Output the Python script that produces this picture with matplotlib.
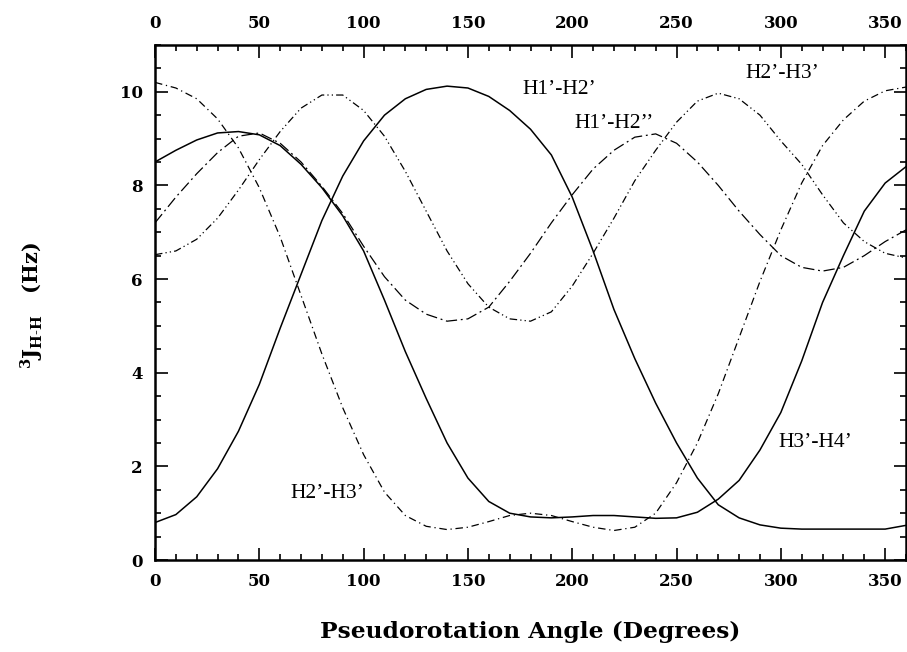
import matplotlib
matplotlib.use("Agg")
import matplotlib.pyplot as plt
from matplotlib.ticker import MultipleLocator

plt.rcParams["mathtext.fontset"] = "dejavuserif"

# pseudorotation angle grid (degrees)
angle = [0, 10, 20, 30, 40, 50, 60, 70, 80, 90, 100, 110, 120, 130, 140, 150, 160, 170, 180,
         190, 200, 210, 220, 230, 240, 250, 260, 270, 280, 290, 300, 310, 320, 330, 340, 350, 360]

# coupling constants (Hz)
j_h1h2 = [0.80, 0.97, 1.35, 1.95, 2.75, 3.75, 4.95, 6.1, 7.25, 8.2, 8.95, 9.5, 9.85, 10.05, 10.12,
          10.08, 9.9, 9.6, 9.2, 8.65, 7.75, 6.6, 5.35, 4.3, 3.35, 2.5, 1.75, 1.18, 0.9, 0.75, 0.68,
          0.66, 0.66, 0.66, 0.66, 0.66, 0.74]
j_h3h4 = [8.5, 8.75, 8.97, 9.12, 9.15, 9.08, 8.85, 8.45, 7.95, 7.35, 6.6, 5.55, 4.45, 3.45, 2.5,
          1.75, 1.25, 1.0, 0.92, 0.9, 0.92, 0.95, 0.95, 0.92, 0.89, 0.9, 1.02, 1.3, 1.7, 2.35, 3.15,
          4.25, 5.5, 6.5, 7.45, 8.05, 8.4]
j_h1h2b = [7.2, 7.75, 8.25, 8.7, 9.05, 9.12, 8.9, 8.5, 7.98, 7.4, 6.7, 6.05, 5.55, 5.25, 5.1,
           5.15, 5.4, 5.95, 6.55, 7.2, 7.8, 8.35, 8.75, 9.03, 9.1, 8.9, 8.5, 8.0, 7.45, 6.95, 6.5,
           6.25, 6.17, 6.25, 6.5, 6.8, 7.05]
j_h2h3 = [10.2, 10.08, 9.85, 9.42, 8.8, 7.95, 6.9, 5.65, 4.4, 3.25, 2.25, 1.45, 0.95, 0.72, 0.65,
          0.7, 0.82, 0.95, 1.0, 0.95, 0.82, 0.7, 0.63, 0.7, 1.0, 1.65, 2.5, 3.55, 4.75, 5.95, 7.05,
          8.05, 8.85, 9.4, 9.8, 10.02, 10.1]
j_h2h3b = [6.52, 6.6, 6.85, 7.3, 7.9, 8.55, 9.15, 9.65, 9.93, 9.93, 9.6, 9.05, 8.3, 7.45, 6.6,
           5.9, 5.4, 5.15, 5.1, 5.3, 5.85, 6.55, 7.3, 8.1, 8.75, 9.35, 9.8, 9.97, 9.85, 9.5, 8.95,
           8.45, 7.8, 7.2, 6.8, 6.55, 6.45]

labels = ["H1\u2019-H2\u2019", "H1\u2019-H2\u2019\u2019", "H2\u2019-H3\u2019", "H2\u2019-H3\u2019", "H3\u2019-H4\u2019"]
label_x = [176, 201, 283, 65, 299]
label_y = [10.05, 9.33, 10.4, 1.43, 2.5]

fig = plt.figure(figsize=(9.07, 6.52), dpi=100)
ax = fig.add_axes([0.1709, 0.1411, 0.828, 0.79])

ax.plot(angle, j_h1h2, color="black", lw=1.1, ls="-")
ax.plot(angle, j_h3h4, color="black", lw=1.1, ls="-")
ax.plot(angle, j_h1h2b, color="black", lw=0.9, ls=(0, (9, 3, 1.5, 3)))
ax.plot(angle, j_h2h3, color="black", lw=0.9, ls=(0, (6, 3, 1, 3)))
ax.plot(angle, j_h2h3b, color="black", lw=0.9, ls=(0, (6, 2.5, 1, 2.5, 1, 2.5)))

for s, x, y in zip(labels, label_x, label_y):
    ax.text(x, y, s, ha="left", va="center", fontsize=15.5, family="Liberation Serif")

ax.set_xlim(0, 360)
ax.set_ylim(0, 11)
ax.xaxis.set_major_locator(MultipleLocator(50))
ax.xaxis.set_minor_locator(MultipleLocator(10))
ax.yaxis.set_major_locator(MultipleLocator(2))
ax.yaxis.set_minor_locator(MultipleLocator(0.5))
ax.tick_params(which="both", direction="in", top=True, right=True, labeltop=True, width=1.2)
ax.tick_params(which="major", length=9, pad=9)
ax.tick_params(which="minor", length=4.5)
for lab in ax.get_xticklabels() + ax.get_yticklabels():
    lab.set_family("DejaVu Serif")
    lab.set_fontweight("bold")
    lab.set_fontsize(12)
for sp in ax.spines.values():
    sp.set_linewidth(1.8)

fig.text(0.584, 0.030, "Pseudorotation Angle (Degrees)", ha="center", va="center",
         fontsize=16.8, family="DejaVu Serif", fontweight="bold")
fig.text(0.036, 0.532, r"$\mathbf{^{3}J_{H\text{-}H}}$   (Hz)", ha="center", va="center",
         rotation=90, fontsize=15, family="DejaVu Serif", fontweight="bold")

fig.savefig("out.png", dpi=100)
